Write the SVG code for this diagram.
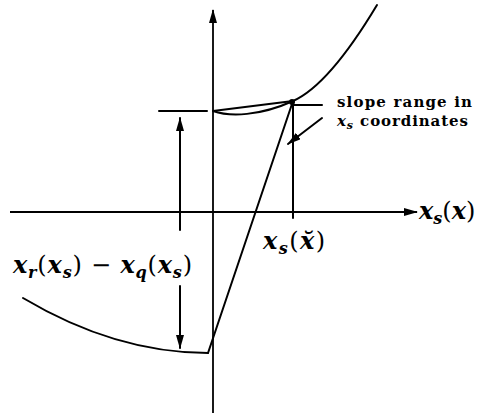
<svg xmlns="http://www.w3.org/2000/svg" width="477" height="417" viewBox="0 0 477 417">
<style>
.ln{fill:none;stroke:#000;stroke-width:2;stroke-linecap:round}
.ax{fill:none;stroke:#000;stroke-width:1.8}
.m{font-family:"DejaVu Serif","Liberation Serif",serif;font-weight:bold;font-style:italic;font-size:24px;fill:#000}
.up{font-style:normal;font-weight:normal}
.sub{font-size:16px}
.t{font-family:"DejaVu Serif","Liberation Serif",serif;font-weight:bold;font-size:15px;fill:#000}
</style>
<defs>
<marker id="ah" markerWidth="14" markerHeight="8" refX="13" refY="4" orient="auto" markerUnits="userSpaceOnUse">
<path d="M0,0 L14,4 L0,8 Z" fill="#000"/>
</marker>
</defs>
<rect width="477" height="417" fill="#fff"/>
<g id="connectors">
<line id="x-axis" class="ax" x1="10" y1="212" x2="417" y2="212" marker-end="url(#ah)"/>
<line id="y-axis" class="ax" x1="213" y1="413" x2="213" y2="10" marker-end="url(#ah)"/>
<line class="ln" x1="159" y1="111" x2="207" y2="111" stroke-width="1.5"/>
<line class="ln" x1="293" y1="105" x2="322" y2="105" stroke-width="1.5"/>
<line class="ln" x1="293" y1="101" x2="293" y2="218" stroke-width="1.5"/>
<line class="ln" x1="180" y1="230" x2="180" y2="118" stroke-width="1.5" marker-end="url(#ah)"/>
<line class="ln" x1="180" y1="286" x2="180" y2="348" stroke-width="1.5" marker-end="url(#ah)"/>
<line class="ln" x1="322" y1="118" x2="288" y2="144" stroke-width="1.5" marker-end="url(#ah)"/>
</g>
<g id="upper-curve">
<path class="ln" d="M213,111 C230,117 260,116 293,101 C320,89 350,50 377,5"/>
<line class="ln" x1="213" y1="111" x2="293" y2="101"/>
<circle cx="292" cy="102" r="3" fill="#000"/>
</g>
<g id="slope-line">
<line class="ln" x1="293" y1="101" x2="208" y2="353"/>
</g>
<g id="lower-curve">
<path class="ln" d="M23,298 Q115.5,353 208,353"/>
</g>
<g id="labels">
<text class="m" x="13" y="273" textLength="179">x<tspan class="sub" dy="5">r</tspan><tspan class="up" dy="-5">(</tspan>x<tspan class="sub" dy="5">s</tspan><tspan class="up" dy="-5">) − </tspan>x<tspan class="sub" dy="5">q</tspan><tspan class="up" dy="-5">(</tspan>x<tspan class="sub" dy="5">s</tspan><tspan class="up" dy="-5">)</tspan></text>
<text class="m" x="263" y="249" textLength="62">x<tspan class="sub" dy="5">s</tspan><tspan class="up" dy="-5">(</tspan>x̆<tspan class="up">)</tspan></text>
<text class="m" x="419" y="219">x<tspan class="sub" dy="5">s</tspan><tspan class="up" dy="-5">(</tspan>x<tspan class="up">)</tspan></text>
<text class="t" x="337" y="107" textLength="135">slope range in</text>
<text class="t" x="337" y="126" textLength="131"><tspan font-style="italic">x</tspan><tspan font-style="italic" font-size="11" dy="3">s</tspan><tspan dy="-3"> coordinates</tspan></text>
</g>
</svg>
